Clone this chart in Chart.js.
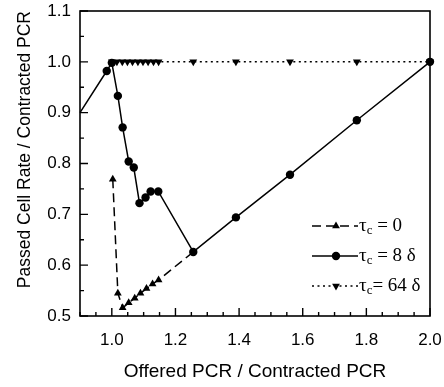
<!DOCTYPE html>
<html>
<head>
<meta charset="utf-8">
<script src="https://cdn.jsdelivr.net/npm/chart.js@4/dist/chart.umd.min.js"></script>
<style>
  html, body { margin: 0; padding: 0; background: #fff; }
  #wrap { width: 444px; height: 387px; position: relative; }
</style>
</head>
<body>
<div id="wrap"><canvas id="chart"></canvas></div>
<script>
// values
const seriesLabels = ['τc = 0', 'τc = 8 δ', 'τc= 64 δ'];

const tau0X = [1.003, 1.019, 1.034, 1.053, 1.072, 1.090, 1.109, 1.128, 1.147, 1.256];
const tau0Y = [0.769, 0.545, 0.516, 0.526, 0.535, 0.545, 0.554, 0.563, 0.571, 0.626];

const tau8X = [0.900, 0.984, 1.000, 1.019, 1.034, 1.053, 1.069, 1.087, 1.106, 1.122, 1.146, 1.256, 1.390, 1.560, 1.770, 2.000];
const tau8Y = [0.900, 0.982, 0.998, 0.933, 0.871, 0.804, 0.792, 0.722, 0.733, 0.745, 0.745, 0.626, 0.694, 0.778, 0.885, 1.000];

const tau64X = [1.000, 1.016, 1.033, 1.049, 1.065, 1.082, 1.098, 1.114, 1.131, 1.147, 1.256, 1.390, 1.560, 1.770, 2.000];
const tau64Y = [1.0, 1.0, 1.0, 1.0, 1.0, 1.0, 1.0, 1.0, 1.0, 1.0, 1.0, 1.0, 1.0, 1.0, 1.0];

const xTickValues = [1.0, 1.2, 1.4, 1.6, 1.8, 2.0];
const yTickValues = [0.5, 0.6, 0.7, 0.8, 0.9, 1.0, 1.1];

const zip = (xs, ys) => xs.map((x, i) => ({ x, y: ys[i] }));

const sansFont = 'Liberation Sans, Arial, Helvetica, sans-serif';
const serifFont = 'Liberation Serif, Times New Roman, serif';

const lineStyles = [
    { borderDash: [9, 5], pointStyle: 'triangle', rotation: 0, radius: 4.5 },
    { borderDash: [], pointStyle: 'circle', rotation: 0, radius: 4.2 },
    { borderDash: [2, 3.5], pointStyle: 'triangle', rotation: 180, radius: 4.5 }
];

// box round the plot area and inward tick marks
const frameTicks = {
    id: 'frameTicks',
    beforeDatasetsDraw(chart) {
        const { ctx, chartArea: a, scales } = chart;
        ctx.save();
        ctx.strokeStyle = '#000';
        ctx.lineWidth = 1.6;
        ctx.strokeRect(a.left, a.top, a.right - a.left, a.bottom - a.top);
        ctx.lineWidth = 1.4;
        ctx.beginPath();
        for (let i = 18; i <= 40; i++) {
            const v = i * 0.05;
            const major = i % 4 === 0;
            const px = scales.x.getPixelForValue(v);
            ctx.moveTo(px, a.bottom);
            ctx.lineTo(px, a.bottom - (major ? 8 : 4));
        }
        for (let i = 10; i <= 22; i++) {
            const v = i * 0.05;
            const major = i % 2 === 0;
            const py = scales.y.getPixelForValue(v);
            ctx.moveTo(a.left, py);
            ctx.lineTo(a.left + (major ? 8 : 4), py);
        }
        ctx.stroke();
        ctx.restore();
    }
};

// legend drawn inside the plot, lower right
const insideLegend = {
    id: 'insideLegend',
    afterDraw(chart) {
        const { ctx } = chart;
        ctx.save();
        seriesLabels.forEach((label, i) => {
            const st = lineStyles[i];
            const y = 226 + i * 30;
            ctx.strokeStyle = '#000';
            ctx.fillStyle = '#000';
            ctx.lineWidth = 1.5;
            ctx.setLineDash(st.borderDash);
            ctx.beginPath();
            ctx.moveTo(312, y);
            ctx.lineTo(358, y);
            ctx.stroke();
            ctx.setLineDash([]);
            Chart.helpers.drawPoint(ctx, { pointStyle: st.pointStyle, rotation: st.rotation, radius: st.radius, borderWidth: 0 }, 336, y);

            ctx.textBaseline = 'middle';
            ctx.textAlign = 'left';
            let x = 359;
            ctx.font = '19px ' + serifFont;
            ctx.fillText(label[0], x, y);
            x += ctx.measureText(label[0]).width;
            ctx.font = '13px ' + serifFont;
            ctx.fillText(label[1], x, y + 5);
            x += ctx.measureText(label[1]).width;
            ctx.font = '19px ' + serifFont;
            ctx.fillText(label.slice(2), x, y);
        });
        ctx.restore();
    }
};

function makeDataset(i, xs, ys, radiusFn) {
    const st = lineStyles[i];
    return {
        label: seriesLabels[i],
        data: zip(xs, ys),
        showLine: true,
        borderColor: '#000',
        backgroundColor: '#000',
        borderWidth: 1.5,
        borderDash: st.borderDash,
        pointStyle: st.pointStyle,
        rotation: st.rotation,
        pointRadius: radiusFn || st.radius,
        pointBackgroundColor: '#000',
        pointBorderWidth: 0,
        clip: false
    };
}

new Chart(document.getElementById('chart'), {
    type: 'scatter',
    data: {
        datasets: [
            makeDataset(0, tau0X, tau0Y, ctx => ctx.dataIndex === tau0X.length - 1 ? 0 : 4.5),
            makeDataset(1, tau8X, tau8Y, ctx => ctx.dataIndex === 0 ? 0 : 4.2),
            makeDataset(2, tau64X, tau64Y)
        ]
    },
    options: {
        responsive: true,
        maintainAspectRatio: false,
        animation: false,
        layout: { padding: { top: 11, right: 14, left: 0, bottom: 0 } },
        plugins: {
            legend: { display: false },
            tooltip: { enabled: false }
        },
        scales: {
            x: {
                type: 'linear',
                min: 0.9,
                max: 2.0,
                afterBuildTicks: scale => { scale.ticks = xTickValues.map(v => ({ value: v })); },
                afterFit: scale => {
                    scale.height = 71;
                    scale.paddingLeft = 0;
                    scale.paddingRight = 0;
                },
                grid: { display: false, drawTicks: false },
                border: { display: false },
                ticks: {
                    color: '#000',
                    font: { family: sansFont, size: 17 },
                    padding: 14,
                    maxRotation: 0,
                    callback: v => v.toFixed(1)
                },
                title: {
                    display: true,
                    text: 'Offered PCR / Contracted PCR',
                    color: '#000',
                    font: { family: sansFont, size: 19 },
                    padding: { top: 0, bottom: 4 }
                }
            },
            y: {
                type: 'linear',
                min: 0.5,
                max: 1.1,
                afterBuildTicks: scale => { scale.ticks = yTickValues.map(v => ({ value: v })); },
                afterFit: scale => {
                    scale.width = 80;
                    scale.paddingTop = 0;
                    scale.paddingBottom = 0;
                },
                grid: { display: false, drawTicks: false },
                border: { display: false },
                ticks: {
                    color: '#000',
                    font: { family: sansFont, size: 17 },
                    padding: 9,
                    callback: v => v.toFixed(1)
                },
                title: {
                    display: true,
                    text: 'Passed Cell Rate / Contracted PCR',
                    align: 'end',
                    color: '#000',
                    font: { family: sansFont, size: 17.5 },
                    padding: { top: 15, bottom: 0 }
                }
            }
        }
    },
    plugins: [frameTicks, insideLegend]
});
</script>
</body>
</html>
